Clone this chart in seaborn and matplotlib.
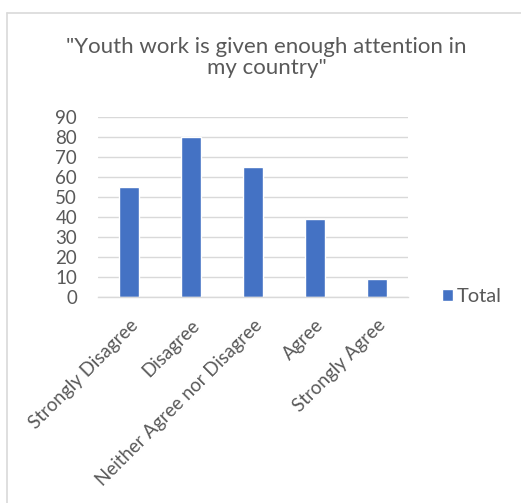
import matplotlib
matplotlib.use("Agg")
import matplotlib.pyplot as plt
from matplotlib.lines import Line2D
import seaborn as sns
import pandas as pd

categories = ["Strongly Disagree", "Disagree", "Neither Agree nor Disagree", "Agree", "Strongly Agree"]
totals = [55, 80, 65, 39, 9]
y_ticks = [0, 10, 20, 30, 40, 50, 60, 70, 80, 90]
title = "\"Youth work is given enough attention in\nmy country\""
series_name = "Total"

df = pd.DataFrame({"category": categories, "value": totals})

sns.set_theme(style="white")
plt.rcParams["font.family"] = ["Lato", "DejaVu Sans"]

text_color = "#595959"
grid_color = "#d9d9d9"
bar_color = "#4472C4"

W, H = 521, 503
fig = plt.figure(figsize=(W / 100, H / 100), dpi=100)
fig.patch.set_facecolor("white")

left, right = 98 / W, 408 / W
bottom, top = 1 - 296.7 / H, 1 - 116.7 / H
ax = fig.add_axes([left, bottom, right - left, top - bottom])

sns.barplot(data=df, x="category", y="value", color=bar_color, width=0.32,
            label=series_name, ax=ax, saturation=1)

ax.set_ylim(0, 90)
ax.set_yticks(y_ticks)
ax.set_xlim(-0.5, len(categories) - 0.5)
ax.yaxis.grid(True, color=grid_color, linewidth=1)
ax.set_axisbelow(True)
for s in ["top", "right", "left"]:
    ax.spines[s].set_visible(False)
ax.spines["bottom"].set_color(grid_color)
ax.spines["bottom"].set_linewidth(1)
ax.set_xlabel("")
ax.set_ylabel("")
ax.tick_params(axis="both", length=0, colors=text_color, labelsize=13.5)
ax.tick_params(axis="y", pad=15)
ax.tick_params(axis="x", pad=14)
plt.setp(ax.get_xticklabels(), rotation=45, ha="right", rotation_mode="anchor")

fig.text(266.5 / W, 1 - 57.5 / H, title, ha="center", va="center",
         fontsize=16, color=text_color, linespacing=1.12)

ax.legend(loc="center left", bbox_to_anchor=(442 / W, 1 - 297 / H),
          bbox_transform=fig.transFigure, frameon=False, fontsize=14.5,
          handlelength=0.55, handleheight=0.55, handletextpad=0.2,
          borderaxespad=0, borderpad=0, labelcolor=text_color)

# outer chart frame
fig.add_artist(Line2D([7 / W, 1], [1 - 13 / H, 1 - 13 / H], color=grid_color, lw=1.2,
                      transform=fig.transFigure))
fig.add_artist(Line2D([7 / W, 7 / W], [0, 1 - 13 / H], color=grid_color, lw=1.2,
                      transform=fig.transFigure))

fig.savefig("out.png", dpi=100, facecolor="white")
